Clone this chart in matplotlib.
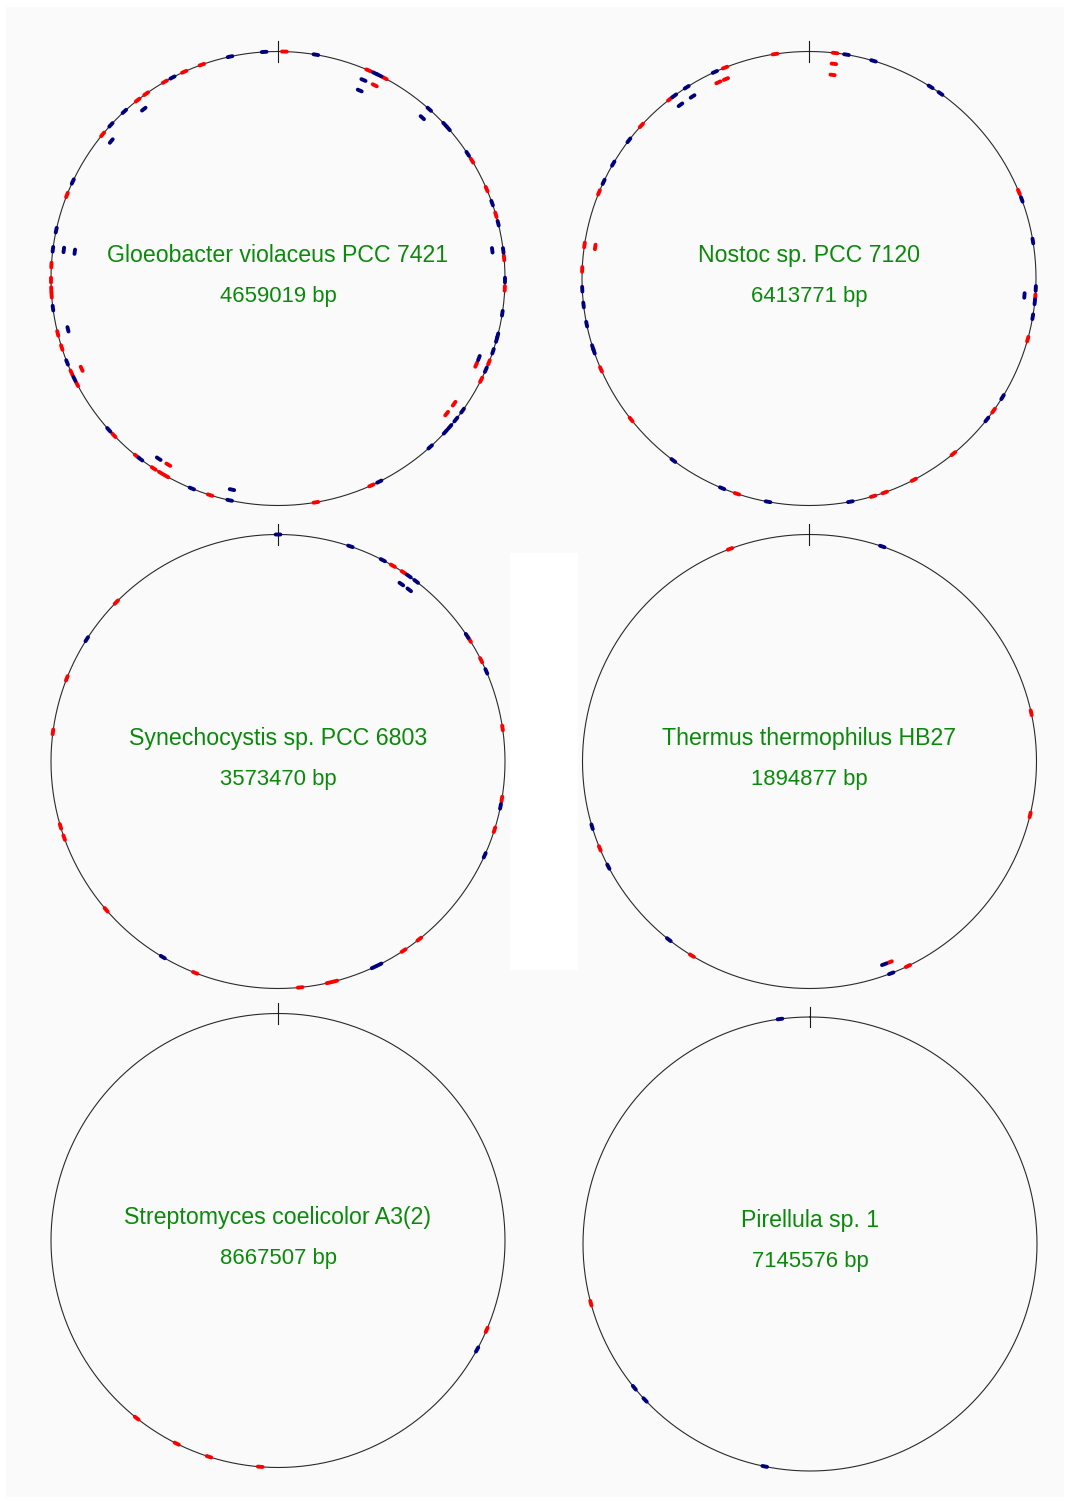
import numpy as np
import matplotlib
matplotlib.use("Agg")
import matplotlib.pyplot as plt
from matplotlib.patches import Rectangle

# ---------------------------------------------------------------------------
# Data: mark positions in degrees clockwise from the origin (top of circle)
# ring 0 = on the circle, ring 1 / ring 2 = stacked inwards
# ---------------------------------------------------------------------------

names = ["Gloeobacter violaceus PCC 7421", "Nostoc sp. PCC 7120",
         "Synechocystis sp. PCC 6803", "Thermus thermophilus HB27",
         "Streptomyces coelicolor A3(2)", "Pirellula sp. 1"]
sizes = [4659019, 6413771, 3573470, 1894877, 8667507, 7145576]

gloeo_red = [1.6, 23.5, 28.0, 58.7, 66.8, 73.7, 84.8, 92.5, 111.7, 116.5,
             155.7, 170.4, 197.4, 209.5, 211.0, 213.2, 218.5, 226.3, 242.3,
             245.5, 252.3, 256.0, 265.8, 267.2, 269.6, 273.4, 291.6, 309.4,
             321.8, 324.5, 330.1, 335.6, 340.4]
gloeo_red_in = [26.6, 113.5, 125.4, 128.7, 210.5, 245.3]
gloeo_blue = [347.8, 356.5, 9.6, 25.3, 26.5, 41.8, 47.3, 48.6, 56.7, 70.6,
              75.9, 82.9, 90.4, 98.8, 104.6, 105.6, 108.7, 113.7, 125.6,
              128.4, 130.8, 132.5, 137.9, 153.5, 192.3, 202.3, 217.3, 228.2,
              243.8, 248.3, 262.5, 277.4, 282.3, 295.3, 312.6, 317.4, 332.3]
gloeo_blue_in = [23.3, 41.9, 82.5, 111.6, 192.3, 213.5, 256.4, 277.6,
                 309.5, 321.6]
gloeo_blue_in2 = [23.5, 277.5]

nostoc_red = [351.4, 6.6, 67.6, 94.6, 105.5, 125.6, 140.5, 152.5, 160.5,
              163.6, 198.5, 231.6, 246.4, 272.3, 278.5, 292.3, 312.4, 322.2,
              338.3]
nostoc_red_in = [6.6, 278.4, 335.2, 337.4]
nostoc_red_in2 = [6.6]
nostoc_blue = [9.5, 16.5, 32.4, 35.4, 69.6, 80.5, 92.5, 95.9, 99.7, 121.5,
               128.4, 169.5, 190.4, 202.5, 216.7, 251.3, 252.3, 258.4, 263.3,
               267.3, 295.2, 300.4, 307.5, 323.6, 327.4, 335.5]
nostoc_blue_in = [94.5, 323.5, 327.4]

synech_red = [30.4, 33.6, 57.6, 63.5, 81.5, 99.5, 107.5, 141.5, 146.4,
              165.5, 167.0, 174.4, 201.4, 229.2, 250.4, 253.4, 277.5, 291.5,
              314.6]
synech_blue = [0.0, 18.6, 27.5, 35.2, 37.5, 56.4, 66.6, 101.4, 114.4, 153.5,
               155.0, 210.5, 302.6]
synech_blue_in = [34.8, 37.4]

thermus_red = [339.5, 77.6, 103.6, 154.3, 211.2, 247.5]
thermus_red_in = [158.2]
thermus_blue = [18.7, 158.9, 218.3, 242.4, 253.3]
thermus_blue_in = [159.8]

strepto_red = [113.2, 184.5, 197.7, 206.5, 218.5]
strepto_blue = [118.7]

pirel_red = [254.9]
pirel_blue = [352.4, 226.6, 230.7, 191.5]

# (red rings, blue rings) per genome, rings listed outer -> inner
marks = [
    ([gloeo_red, gloeo_red_in, []], [gloeo_blue, gloeo_blue_in, gloeo_blue_in2]),
    ([nostoc_red, nostoc_red_in, nostoc_red_in2], [nostoc_blue, nostoc_blue_in, []]),
    ([synech_red, [], []], [synech_blue, synech_blue_in, []]),
    ([thermus_red, thermus_red_in, []], [thermus_blue, thermus_blue_in, []]),
    ([strepto_red, [], []], [strepto_blue, [], []]),
    ([pirel_red, [], []], [pirel_blue, [], []]),
]

# ---------------------------------------------------------------------------
# Layout (pixels)
# ---------------------------------------------------------------------------
W, H = 1068, 1502
centers = [(278, 278.5), (809, 278.5), (278, 761.5), (809.5, 761.5),
           (278, 1240.5), (810, 1244)]
R = 227.0
RMAX = 1.08
ring_r = [1.0, 0.952, 0.903]
RED, BLUE, GREEN = "#ff0000", "#00007f", "#0a8a0a"

fig = plt.figure(figsize=(W / 100, H / 100), dpi=100)
fig.patch.set_facecolor("white")
fig.patches.append(Rectangle((6 / W, 1 - 1497 / H), 1058 / W, 1490 / H,
                             transform=fig.transFigure, facecolor="#fafafa",
                             edgecolor="none", zorder=-2))
fig.patches.append(Rectangle((510 / W, 1 - 970 / H), 68 / W, 417 / H,
                             transform=fig.transFigure, facecolor="white",
                             edgecolor="none", zorder=-1))

half = 0.6  # half length of a mark in degrees
for (cx, cy), name, size, (reds, blues) in zip(centers, names, sizes, marks):
    ext = R * RMAX
    ax = fig.add_axes([(cx - ext) / W, 1 - (cy + ext) / H, 2 * ext / W, 2 * ext / H],
                      projection="polar")
    ax.set_theta_zero_location("N")
    ax.set_theta_direction(-1)
    ax.set_ylim(0, RMAX)
    ax.set_axis_off()

    t = np.linspace(0, 2 * np.pi, 721)
    ax.plot(t, np.ones_like(t), color="#2a2a2a", lw=0.8)
    ax.plot([0, 0], [0.955, 1.045], color="#1a1a1a", lw=0.8)

    for color, rings in ((RED, reds), (BLUE, blues)):
        for r, angles in zip(ring_r, rings):
            for a in angles:
                th = np.radians(np.linspace(a - half, a + half, 5))
                ax.plot(th, np.full_like(th, r), color=color, lw=2.8,
                        solid_capstyle="round", zorder=3)

    fig.text(cx / W, 1 - (cy - 16.5) / H, name, ha="center", va="baseline",
             color=GREEN, fontsize=16.7, family="Liberation Sans")
    fig.text(cx / W, 1 - (cy + 23.5) / H, f"{size} bp", ha="center",
             va="baseline", color=GREEN, fontsize=15.9, family="Liberation Sans")

fig.savefig("out.png", dpi=100, facecolor="white")
